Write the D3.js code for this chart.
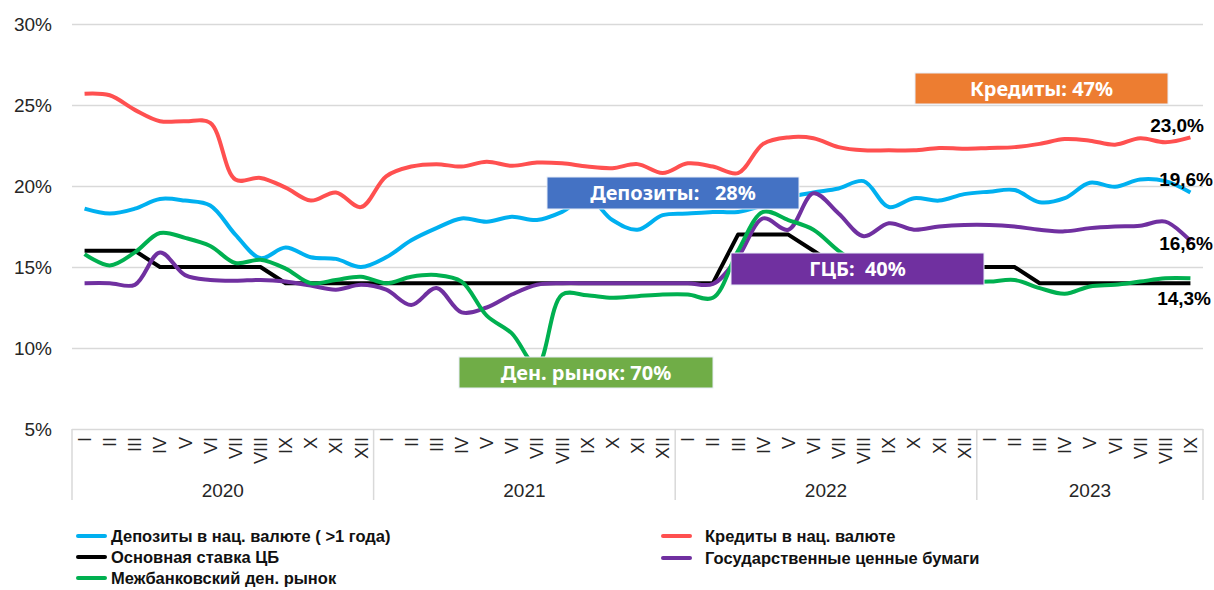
<!DOCTYPE html>
<html>
<head>
<meta charset="utf-8">
<script src="https://cdn.jsdelivr.net/npm/d3@7"></script>
<style>
  body { margin: 0; background: #fff; }
  svg { display: block; }
</style>
</head>
<body>
<div id="chart"></div>
<script>
// months and years on the x axis
const romans = ['I','II','III','IV','V','VI','VII','VIII','IX','X','XI','XII'];
const years = ['2020', '2021', '2022', '2023'];
const monthsPerYear = [12, 12, 12, 9];
const yTicks = [5, 10, 15, 20, 25, 30];

// series values, % (Jan 2020 .. Sep 2023)
const deposits = [18.6,18.3,18.6,19.2,19.1,18.8,17.0,15.55,16.2,15.6,15.5,15.0,
  15.6,16.65,17.4,18.0,17.8,18.1,17.9,18.4,19.3,17.9,17.3,18.2,
  18.3,18.4,18.4,18.8,19.3,19.6,19.85,20.3,18.7,19.25,19.1,19.5,
  19.65,19.75,19.0,19.25,20.2,19.95,20.4,20.3,19.6];
const credits = [25.7,25.6,24.7,24.0,24.0,23.9,20.4,20.5,19.9,19.1,19.6,18.7,
  20.6,21.2,21.35,21.2,21.5,21.25,21.45,21.4,21.2,21.1,21.35,20.8,
  21.4,21.2,20.8,22.6,23.0,22.95,22.4,22.2,22.2,22.2,22.35,22.3,
  22.35,22.4,22.6,22.9,22.8,22.55,22.95,22.7,23.0];
const baseRate = [16,16,16,15,15,15,15,15,14,14,14,14,
  14,14,14,14,14,14,14,14,14,14,14,14,
  14,14,17,17,17,16,15,15,15,15,15,15,
  15,15,14,14,14,14,14,14,14];
const govSecurities = [14.0,14.0,13.9,15.9,14.5,14.2,14.15,14.2,14.1,13.85,13.6,13.9,
  13.6,12.65,13.7,12.2,12.5,13.3,13.9,14.0,14.0,14.0,14.0,14.0,
  14.0,13.95,15.6,18.0,17.3,19.55,18.3,16.9,17.7,17.3,17.5,17.6,
  17.6,17.5,17.3,17.2,17.4,17.5,17.55,17.8,16.6];
const interbank = [15.8,15.1,15.9,17.1,16.8,16.3,15.25,15.45,14.9,14.0,14.2,14.4,
  14.0,14.4,14.5,14.1,12.0,10.9,8.9,13.3,13.25,13.1,13.2,13.3,
  13.3,13.1,16.0,18.4,17.9,17.3,16.0,15.0,14.3,14.2,14.1,14.1,
  14.1,14.2,13.7,13.35,13.8,13.9,14.1,14.3,14.3];

const seriesNames = ['Депозиты в нац. валюте ( >1 года)', 'Кредиты в нац. валюте',
  'Основная ставка ЦБ', 'Государственные ценные бумаги', 'Межбанковский ден. рынок'];
const seriesColors = ['#00B0F0', '#FF5050', '#000000', '#7030A0', '#00B050'];
const seriesValues = [deposits, credits, baseRate, govSecurities, interbank];
const endLabels = ['19,6%', '23,0%', '', '16,6%', '14,3%'];

const shareLabels = ['Кредиты: 47%', 'Депозиты:   28%', 'ГЦБ:  40%', 'Ден. рынок: 70%'];
const shareColors = ['#ED7D31', '#4472C4', '#7030A0', '#70AD47'];

const width = 1214, height = 590;
const plotLeft = 72, plotRight = 1203, plotTop = 24, plotBottom = 429;

// build month keys
let keys = [];
years.forEach((yr, j) => {
  for (let m = 0; m < monthsPerYear[j]; m++) keys.push(yr + '-' + romans[m]);
});

const svg = d3.select('#chart').append('svg')
  .attr('width', width)
  .attr('height', height);

const x = d3.scaleBand().domain(keys).range([plotLeft, plotRight]);
const y = d3.scaleLinear().domain([5, 30]).range([plotBottom, plotTop]);
const cx = k => x(k) + x.bandwidth() / 2;

// y axis with grid
const yAxis = svg.append('g')
  .attr('transform', 'translate(' + plotLeft + ',0)')
  .call(d3.axisLeft(y).tickValues(yTicks).tickFormat(d => d + '%')
    .tickSize(-(plotRight - plotLeft)).tickPadding(20));
yAxis.select('.domain').remove();
yAxis.selectAll('.tick line').attr('stroke', '#d9d9d9').attr('stroke-width', 1.5);
yAxis.selectAll('.tick text')
  .attr('fill', '#262626')
  .style('font-family', 'Liberation Sans, Arial, sans-serif')
  .style('font-size', '19px');

// x axis: month numerals
const xAxis = svg.append('g');
xAxis.selectAll('text.month')
  .data(keys)
  .enter().append('text')
  .attr('class', 'month')
  .attr('transform', d => 'translate(' + (cx(d) + 6.5) + ',' + (plotBottom + 8) + ') rotate(-90)')
  .attr('text-anchor', 'end')
  .attr('fill', '#262626')
  .style('font-family', 'Liberation Sans, Arial, sans-serif')
  .style('font-size', '18px')
  .text(d => d.split('-')[1]);

// year groups and separators
let start = 0;
const groups = years.map((yr, j) => {
  const g = { year: yr, first: keys[start], last: keys[start + monthsPerYear[j] - 1] };
  start += monthsPerYear[j];
  return g;
});
const seps = [groups[0].first].concat(groups.map(g => g.last));
xAxis.selectAll('line.sep')
  .data(seps)
  .enter().append('line')
  .attr('class', 'sep')
  .attr('x1', (d, i) => i === 0 ? x(d) : x(d) + x.bandwidth())
  .attr('x2', (d, i) => i === 0 ? x(d) : x(d) + x.bandwidth())
  .attr('y1', plotBottom)
  .attr('y2', plotBottom + 71)
  .attr('stroke', '#d9d9d9')
  .attr('stroke-width', 1.5);
xAxis.selectAll('text.year')
  .data(groups)
  .enter().append('text')
  .attr('class', 'year')
  .attr('x', d => (x(d.first) + x(d.last) + x.bandwidth()) / 2)
  .attr('y', plotBottom + 68)
  .attr('text-anchor', 'middle')
  .attr('fill', '#262626')
  .style('font-family', 'Liberation Sans, Arial, sans-serif')
  .style('font-size', '19px')
  .text(d => d.year);

// lines
const smooth = d3.line().x((d, i) => cx(keys[i])).y(d => y(d)).curve(d3.curveCatmullRom.alpha(0.5));
const straight = d3.line().x((d, i) => cx(keys[i])).y(d => y(d));

svg.append('g').selectAll('path')
  .data(seriesValues)
  .enter().append('path')
  .attr('d', (d, i) => i === 2 ? straight(d) : smooth(d))
  .attr('fill', 'none')
  .attr('stroke', (d, i) => seriesColors[i])
  .attr('stroke-width', 4)
  .attr('stroke-linejoin', 'round');

// end-of-line value labels
const endOffsets = [-13, -12, 0, 2, 20];
const endRight = [1213, 1204, 1212, 1213, 1211];
svg.append('g').selectAll('text')
  .data(seriesValues)
  .enter().append('text')
  .attr('x', (d, i) => endRight[i])
  .attr('y', (d, i) => y(d[d.length - 1]) + endOffsets[i])
  .attr('text-anchor', 'end')
  .attr('dy', '0.35em')
  .style('font-family', 'Liberation Sans, Arial, sans-serif')
  .style('font-size', '19px')
  .style('font-weight', 'bold')
  .text((d, i) => endLabels[i]);

// share boxes
const boxLayout = [
  { x0: 915, x1: 1168, y0: 73, y1: 104 },
  { x0: 547, x1: 799, y0: 177, y1: 209 },
  { x0: 731, x1: 984, y0: 253, y1: 285 },
  { x0: 459, x1: 713, y0: 357, y1: 388 }
];
const boxes = svg.append('g').selectAll('g')
  .data(shareLabels)
  .enter().append('g');
boxes.append('rect')
  .attr('x', (d, i) => boxLayout[i].x0)
  .attr('y', (d, i) => boxLayout[i].y0)
  .attr('width', (d, i) => boxLayout[i].x1 - boxLayout[i].x0)
  .attr('height', (d, i) => boxLayout[i].y1 - boxLayout[i].y0)
  .attr('fill', (d, i) => shareColors[i])
  .attr('stroke', '#e8eef8')
  .attr('stroke-width', 1);
boxes.append('text')
  .attr('x', (d, i) => (boxLayout[i].x0 + boxLayout[i].x1) / 2)
  .attr('y', (d, i) => (boxLayout[i].y0 + boxLayout[i].y1) / 2)
  .attr('dy', '0.35em')
  .attr('text-anchor', 'middle')
  .attr('fill', '#fff')
  .style('font-family', 'Noto Sans, sans-serif')
  .style('font-size', '20px')
  .style('font-weight', 'bold')
  .style('white-space', 'pre')
  .text(d => d);

// legend
const legendPos = [[78, 536], [663, 536], [78, 557], [663, 558], [78, 578]];
const legend = svg.append('g').selectAll('g')
  .data(seriesNames)
  .enter().append('g')
  .attr('transform', (d, i) => 'translate(' + legendPos[i][0] + ',' + legendPos[i][1] + ')');
legend.append('line')
  .attr('x1', 0).attr('x2', 27)
  .attr('stroke', (d, i) => seriesColors[i])
  .attr('stroke-width', 4)
  .attr('stroke-linecap', 'round');
legend.append('text')
  .attr('x', (d, i) => legendPos[i][0] < 300 ? 33 : 42)
  .attr('dy', '0.35em')
  .attr('fill', '#111')
  .style('font-family', 'Liberation Sans, Arial, sans-serif')
  .style('font-size', '16.5px')
  .style('font-weight', 'bold')
  .text(d => d);
</script>
</body>
</html>
